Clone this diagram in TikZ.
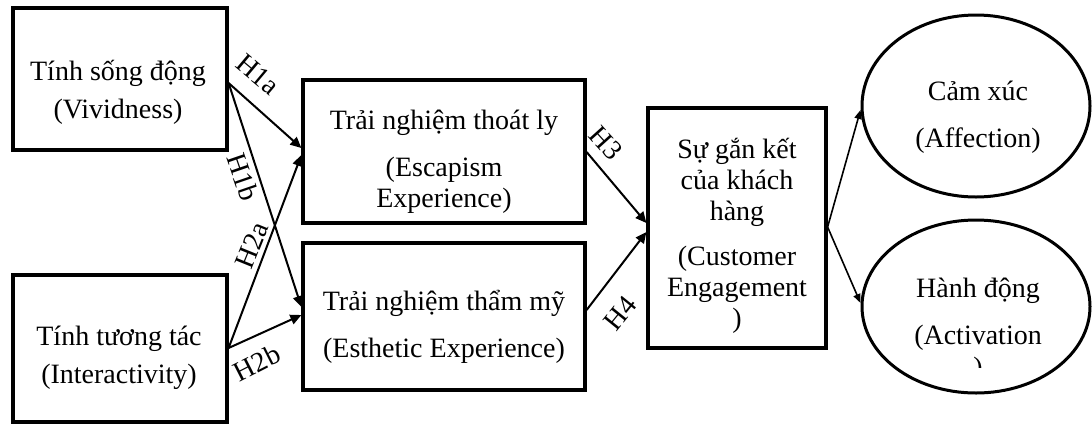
\documentclass[tikz,border=0pt]{standalone}
\usepackage{fontspec}
\setmainfont{Liberation Serif}
\usetikzlibrary{calc,arrows.meta,shapes.geometric}

% fixed baseline distances inside the multi-line labels
\setlength{\lineskiplimit}{-100pt}

% one unit = one pixel of a 1092 x 424 canvas (0.5pt each), y growing downwards
\tikzset{
  x=0.5pt, y=-0.5pt,
  box/.style={draw, line width=1.6pt, rectangle, inner sep=0pt},
  oval/.style={draw, line width=1.5pt, ellipse, inner sep=0pt},
  txt/.style={align=center, inner sep=0pt,
    font=\fontsize{14pt}{15.5pt}\selectfont},
  hyp/.style={inner sep=0pt, font=\fontsize{14pt}{16pt}\selectfont},
  link/.style={line width=1pt, -{Triangle[length=5.5pt,width=5pt]}},
  thinlink/.style={line width=0.8pt, -{Triangle[length=4.5pt,width=3.6pt]}},
}
\newcommand{\topstrut}{\rule{0pt}{11pt}}
\newcommand{\botstrut}{\rule[-4pt]{0pt}{4pt}}

\begin{document}
\begin{tikzpicture}
\useasboundingbox (0,0) rectangle (1092,424);

% construct boxes
\node[box, minimum width=107pt, minimum height=71pt] (viv) at (120,79) {};
\node[box, minimum width=107pt, minimum height=73.5pt] (inter) at (120,348.5) {};
\node[box, minimum width=141pt, minimum height=71.5pt] (esc) at (444,151.5) {};
\node[box, minimum width=141pt, minimum height=73.5pt] (est) at (444,316.5) {};
\node[box, minimum width=89pt, minimum height=120pt] (eng) at (737,228) {};
\node[oval, minimum width=114pt, minimum height=91pt] (aff) at (976,106) {};
\node[oval, minimum width=114pt, minimum height=86.5pt] (act) at (976,306.5) {};

% texts
\node[txt] (vivT) at (118,92) {\topstrut Tính sống động\\[3.5pt](Vividness)\botstrut};
\node[txt] (interT) at (119,357) {\topstrut Tính tương tác\\[3.5pt](Interactivity)\botstrut};
\node[txt] (escT) at (444,161.5) {\topstrut Trải nghiệm thoát ly\\[8pt](Escapism\\Experience)\botstrut};
\node[txt] (estT) at (444,326.5) {\topstrut Trải nghiệm thẩm mỹ\\[8pt](Esthetic Experience)\botstrut};
\node[txt] (engT) at (737,236) {\topstrut Sự gắn kết\\của khách\\hàng\\[7pt](Customer\\Engagement\\)\botstrut};
\node[txt] (affT) at (978,116.5) {\topstrut Cảm xúc\\[8pt](Affection)\botstrut};
\node[txt] (actT) at (978,313.5) {\topstrut Hành động\\[8pt](Activation\botstrut};
\begin{scope}
  \clip (940,350) rectangle (1010,367);
  \node[hyp, anchor=base] (actP) at (978,376) {)};
\end{scope}

% paths
\draw[link] ($(viv.east)+(0,4)$) -- ($(esc.west)+(0,-3.5)$);
\draw[link] ($(viv.east)+(0,4)$) -- ($(est.west)+(0,-9.5)$);
\draw[link] ($(inter.east)+(0,-0.5)$) -- ($(esc.west)+(0,3.5)$);
\draw[link] ($(inter.east)+(0,-0.5)$) -- ($(est.west)+(0,-1.5)$);
\draw[link] ($(esc.east)+(0,0.5)$) -- ($(eng.west)+(0,-5)$);
\draw[link] ($(est.east)+(0,-6.5)$) -- ($(eng.west)+(0,4)$);
\draw[thinlink] ($(eng.east)+(0,-1)$) -- ($(aff.west)+(0,4)$);
\draw[thinlink] ($(eng.east)+(0,-1)$) -- ($(act.west)+(0,-3.5)$);

% hypothesis labels
\node[hyp, rotate=-40] (h1a) at (258,75) {H1a};
\node[hyp, rotate=-71] (h1b) at (243,177) {H1b};
\node[hyp, rotate=68] (h2a) at (252,245) {H2a};
\node[hyp, rotate=27] (h2b) at (257,363) {H2b};
\node[hyp, rotate=-48] (h3) at (606,143) {H3};
\node[hyp, rotate=51] (h4) at (620,313) {H4};
\end{tikzpicture}
\end{document}
